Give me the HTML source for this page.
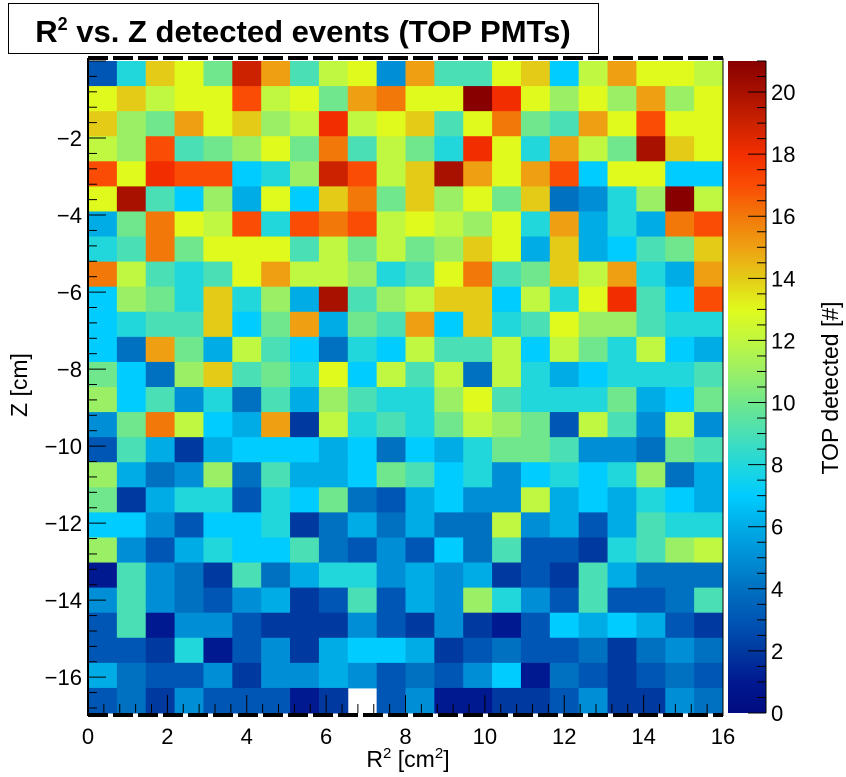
<!DOCTYPE html>
<html><head><meta charset="utf-8"><style>
html,body{margin:0;padding:0;background:#fff;}
svg text{font-family:"Liberation Sans",sans-serif;}
</style></head><body>
<svg id="chart" width="846" height="772" xmlns="http://www.w3.org/2000/svg">
<rect x="8.5" y="3.5" width="590" height="50" fill="#fff" stroke="#000" stroke-width="1"/>
<text x="303" y="42" text-anchor="middle" font-size="31" font-weight="bold">R<tspan dy="-12" font-size="18">2</tspan><tspan dy="12"> vs. Z detected events (TOP PMTs)</tspan></text>
<g id="cells"></g>
<g id="axes"></g>
<text x="408" y="767" text-anchor="middle" font-size="23">R<tspan dy="-9" font-size="15">2</tspan><tspan dy="9"> [cm</tspan><tspan dy="-9" font-size="15">2</tspan><tspan dy="9">]</tspan></text>
<text transform="translate(27,385) rotate(-90)" text-anchor="middle" font-size="23">Z [cm]</text>
<text transform="translate(838,388) rotate(-90)" text-anchor="middle" font-size="23">TOP detected [#]</text>
</svg>
<script>
const xTicks=[0,2,4,6,8,10,12,14,16];
const yTicks=[-2,-4,-6,-8,-10,-12,-14,-16];
const zTicks=[0,2,4,6,8,10,12,14,16,18,20];
const xMin=0,xMax=16,yMin=-16.93,yMax=0,zMax=21;
const nCols=22;
// rows from top (Z near 0) to bottom
const row0=[3,8,14,13,10,19,15,9,12,13,5,15,9,9,13,14,7,12,15,13,13,12];
const row1=[13,14,12,13,13,17,12,13,10,15,16,13,13,21,18,13,11,13,11,15,11,13];
const row2=[14,11,10,15,13,14,11,12,18,12,13,14,9,13,16,10,9,15,13,17,13,13];
const row3=[12,11,17,9,10,11,13,10,16,9,12,10,8,18,13,8,15,12,10,20,14,13];
const row4=[17,13,18,17,17,7,8,11,19,17,12,14,20,15,13,15,17,7,13,13,7,7];
const row5=[13,20,9,7,11,6,13,7,14,16,10,14,11,13,10,14,4,5,8,11,21,12];
const row6=[6,10,16,13,12,17,8,17,16,17,12,13,12,11,13,8,15,6,8,6,16,17];
const row7=[8,9,16,10,13,13,13,9,12,10,12,10,11,14,13,6,14,6,7,9,10,14];
const row8=[16,12,9,8,9,13,15,12,12,11,8,9,13,16,9,10,14,12,15,8,6,15];
const row9=[7,11,10,8,14,8,11,6,20,9,11,12,14,14,7,12,8,13,18,9,7,17];
const row10=[7,8,9,9,14,7,10,15,6,10,9,15,7,14,8,9,13,11,11,9,8,8];
const row11=[7,4,15,10,6,12,9,7,4,8,7,12,9,9,12,7,12,10,8,12,7,6];
const row12=[10,7,4,11,14,9,10,8,13,7,12,9,12,4,12,8,6,7,8,8,8,9];
const row13=[11,7,9,5,8,4,9,6,11,9,8,8,11,13,9,8,8,8,10,6,7,10];
const row14=[5,10,16,12,7,6,15,2,12,8,9,8,10,12,11,10,3,12,9,5,12,5];
const row15=[3,9,6,2,6,7,7,7,6,7,4,7,6,8,10,10,9,5,5,4,10,9];
const row16=[11,6,4,5,11,4,9,6,6,7,10,9,7,8,5,7,8,7,8,11,4,6];
const row17=[10,2,6,8,8,3,8,7,10,4,3,6,7,5,5,12,6,7,6,8,7,6];
const row18=[7,7,5,3,7,7,8,2,4,6,4,6,4,4,12,5,6,3,6,9,8,8];
const row19=[11,5,3,6,8,7,7,9,4,3,5,3,7,4,9,3,3,2,8,9,11,12];
const row20=[1,9,5,4,2,9,4,6,8,8,5,6,5,6,2,3,2,9,6,4,4,4];
const row21=[5,9,5,4,3,5,6,2,3,9,3,6,5,11,8,5,3,9,3,3,4,9];
const row22=[3,9,1,5,5,3,2,2,2,5,3,2,5,2,1,3,7,6,7,6,3,2];
const row23=[3,3,2,8,1,3,5,2,6,7,7,6,2,3,4,3,3,4,2,4,5,4];
const row24=[6,4,3,3,5,2,5,5,6,5,3,4,3,5,7,1,4,3,2,3,4,3];
const row25=[3,4,2,5,3,3,3,1,2,0,3,5,1,1,2,2,3,5,2,2,5,4];
const rows=[row0,row1,row2,row3,row4,row5,row6,row7,row8,row9,row10,row11,row12,row13,row14,row15,row16,row17,row18,row19,row20,row21,row22,row23,row24,row25];

const PX0=88,PX1=723,PY0=61,PY1=713;
const CBX=728,CBW=38;
const sx=v=>PX0+(v-xMin)/(xMax-xMin)*(PX1-PX0);
const sy=v=>PY0+(yMax-v)/(yMax-yMin)*(PY1-PY0);
const sz=v=>PY1-v/zMax*(PY1-PY0);
const pal=["#000c80","#001890","#0039a0","#0056b5","#0070c0","#008fd6","#00ace6","#00ccff","#22d7db","#4adfb5","#70e78c","#9bef65","#c0f740","#e0fa1d","#e4cb17","#eea012","#f2780a","#fa4c04","#f22e00","#cc2200","#a81000","#880000"];
function col(v){const i=Math.max(0,Math.min(pal.length-1,Math.round(v)));return pal[i];}
const NS="http://www.w3.org/2000/svg";
function mk(tag,attrs,parent){const e=document.createElementNS(NS,tag);for(const k in attrs)e.setAttribute(k,attrs[k]);parent.appendChild(e);return e;}
const cells=document.getElementById('cells');
const nRows=rows.length;
const cw=(xMax-xMin)/nCols, rh=(yMax-yMin)/nRows;
rows.forEach((r,ri)=>{r.forEach((v,ci)=>{
  if(v<=0)return;
  const x0=sx(xMin+ci*cw),x1=sx(xMin+(ci+1)*cw);
  const y0=sy(yMax-ri*rh),y1=sy(yMax-(ri+1)*rh);
  const c=mk('rect',{x:x0,y:y0,width:x1-x0+0.5,height:y1-y0+0.5,fill:col(v)},cells);
  
  
});});
const ax=document.getElementById('axes');
mk('line',{x1:PX0,y1:PY0-3,x2:PX0,y2:PY1+3,stroke:'#000','stroke-width':2},ax);
mk('line',{x1:PX1,y1:PY0-3,x2:PX1,y2:PY1+3,stroke:'#000','stroke-width':1},ax);
mk('line',{x1:PX0,y1:PY0-3,x2:PX1,y2:PY0-3,stroke:'#000','stroke-width':4,'stroke-dasharray':'20 5'},ax);
mk('line',{x1:PX0,y1:PY1+2,x2:PX1,y2:PY1+2,stroke:'#000','stroke-width':4,'stroke-dasharray':'20 5'},ax);
for(let v=0;v<=16.001;v+=0.4){const x=sx(v);const major=Math.abs(v/2-Math.round(v/2))<1e-6;
 mk('line',{x1:x,y1:PY1,x2:x,y2:PY1-(major?18:9),stroke:'#000','stroke-width':1},ax);}
xTicks.forEach(v=>{const t=mk('text',{x:sx(v),y:PY1+31,'text-anchor':'middle','font-size':22},ax);t.textContent=v;
 });
for(let v=0;v>=-16.9;v-=0.4){const y=sy(v);const major=Math.abs(v/2-Math.round(v/2))<1e-6;
 mk('line',{x1:PX0,y1:y,x2:PX0+(major?18:9),y2:y,stroke:'#000','stroke-width':1},ax);}
yTicks.forEach(v=>{const t=mk('text',{x:PX0-6,y:sy(v)+8,'text-anchor':'end','font-size':22},ax);t.textContent='\u2212'+Math.abs(v);
 });
const defs=mk('defs',{},ax);
const g=mk('linearGradient',{id:'cb',x1:0,y1:1,x2:0,y2:0},defs);
pal.forEach((c,i)=>{mk('stop',{offset:(i/(pal.length-1)),'stop-color':c},g);});
const cb=mk('rect',{x:CBX,y:sz(zMax),width:CBW,height:sz(0)-sz(zMax),fill:'url(#cb)'},ax);


mk('line',{x1:CBX+CBW,y1:sz(zMax),x2:CBX+CBW,y2:sz(0),stroke:'#000','stroke-width':1},ax);
for(let v=0;v<=21;v+=0.5){const y=sz(v);const major=v%2===0;
 mk('line',{x1:CBX+CBW,y1:y,x2:CBX+CBW-(major?18:9),y2:y,stroke:'#000','stroke-width':1},ax);}
zTicks.forEach(v=>{const t=mk('text',{x:CBX+CBW+5,y:sz(v)+8,'font-size':22},ax);t.textContent=v;
 });
</script>
</body></html>
